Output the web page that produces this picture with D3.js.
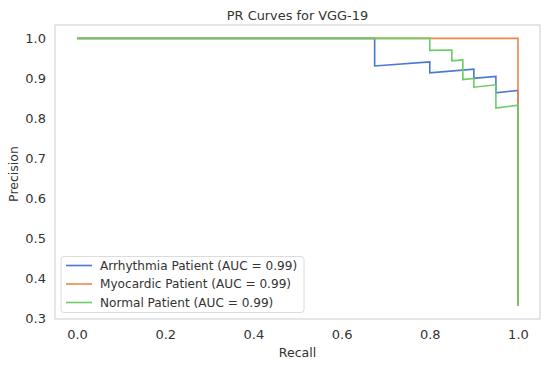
<!DOCTYPE html>
<html>
<head>
<meta charset="utf-8">
<script src="https://cdn.jsdelivr.net/npm/d3@7"></script>
<style>
  body { margin: 0; background: #fff; }
  text { font-family: "DejaVu Sans", sans-serif; fill: #333; }
</style>
</head>
<body>
<div id="chart"></div>
<script>
const xTicks = [0, 0.2, 0.4, 0.6, 0.8, 1.0],
	yTicks = [0.3, 0.4, 0.5, 0.6, 0.7, 0.8, 0.9, 1.0],
	names = ['Arrhythmia Patient (AUC = 0.99)', 'Myocardic Patient (AUC = 0.99)', 'Normal Patient (AUC = 0.99)'],
	colors = ['#4878d0', '#ee854a', '#6acc64'];

// curve vertices
const arrRecall = [0, 0.675, 0.675, 0.8, 0.8, 0.9, 0.9, 0.95, 0.95, 1.0, 1.0],
	arrPrecision = [1, 1, 0.931, 0.941, 0.914, 0.923, 0.9, 0.905, 0.864, 0.87, 0.333];
const myoRecall = [0, 1.0, 1.0],
	myoPrecision = [1, 1, 0.333];
const norRecall = [0, 0.8, 0.8, 0.85, 0.85, 0.875, 0.875, 0.9, 0.9, 0.95, 0.95, 1.0, 1.0],
	norPrecision = [1, 1, 0.97, 0.971, 0.944, 0.946, 0.897, 0.9, 0.878, 0.884, 0.826, 0.833, 0.333];

const W = 550, H = 365,
	margin = {top: 25, right: 10, bottom: 46, left: 55},
	width = W - margin.left - margin.right,
	height = H - margin.top - margin.bottom;

const series = [
	{name: names[0], color: colors[0], r: arrRecall, p: arrPrecision},
	{name: names[1], color: colors[1], r: myoRecall, p: myoPrecision},
	{name: names[2], color: colors[2], r: norRecall, p: norPrecision}
];

const svg = d3.select('#chart').append('svg')
	.attr('width', W)
	.attr('height', H);

const g = svg.append('g')
	.attr('transform', `translate(${margin.left},${margin.top})`);

// 5% padding like matplotlib
let x = d3.scaleLinear().domain([-0.05, 1.05]).range([0, width]);
let y = d3.scaleLinear().domain([0.3 - 0.0005, 1.0333]).range([height, 0]);

// axes (no tick marks)
let xAxis = d3.axisBottom(x).tickValues(xTicks).tickFormat(d3.format('.1f')).tickSize(0).tickPadding(11);
let yAxis = d3.axisLeft(y).tickValues(yTicks).tickFormat(d3.format('.1f')).tickSize(0).tickPadding(9);

g.append('g')
	.attr('transform', `translate(0,${height})`)
	.call(xAxis)
	.call(a => a.select('.domain').remove())
	.selectAll('text')
		.style('font-size', '13px')
		.attr('fill', '#333');

g.append('g')
	.call(yAxis)
	.call(a => a.select('.domain').remove())
	.selectAll('text')
		.style('font-size', '13px')
		.attr('fill', '#333');

// frame
g.append('rect')
	.attr('width', width)
	.attr('height', height)
	.attr('fill', 'none')
	.attr('stroke', '#d6d6d6')
	.attr('stroke-width', 1.2);

// curves
const line = d3.line()
	.x(d => x(d[0]))
	.y(d => y(d[1]));

series.forEach(s => {
	g.append('path')
		.datum(s.r.map((v, i) => [v, s.p[i]]))
		.attr('d', line)
		.attr('fill', 'none')
		.attr('stroke', s.color)
		.attr('stroke-width', 1.6)
		.attr('stroke-linejoin', 'miter');
});

// legend
const leg = g.append('g').attr('transform', `translate(6,${height - 62.5})`);
leg.append('rect')
	.attr('width', 243)
	.attr('height', 56)
	.attr('rx', 3)
	.attr('fill', 'rgba(255,255,255,0.85)')
	.attr('stroke', '#dcdcdc')
	.attr('stroke-width', 1);

series.forEach((s, i) => {
	let ly = 9 + i * 18.5;
	leg.append('line')
		.attr('x1', 5).attr('x2', 31)
		.attr('y1', ly).attr('y2', ly)
		.attr('stroke', s.color)
		.attr('stroke-width', 1.6);
	leg.append('text')
		.attr('x', 39)
		.attr('y', ly + 4.3)
		.style('font-size', '12.1px')
		.text(s.name);
});

// titles
svg.append('text')
	.attr('x', margin.left + width / 2)
	.attr('y', 20)
	.attr('text-anchor', 'middle')
	.style('font-size', '12.9px')
	.text('PR Curves for VGG-19');

svg.append('text')
	.attr('x', margin.left + width / 2)
	.attr('y', 357)
	.attr('text-anchor', 'middle')
	.style('font-size', '12.5px')
	.text('Recall');

svg.append('text')
	.attr('transform', `translate(18,${margin.top + height / 2 + 2}) rotate(-90)`)
	.attr('text-anchor', 'middle')
	.style('font-size', '12.5px')
	.text('Precision');
</script>
</body>
</html>
